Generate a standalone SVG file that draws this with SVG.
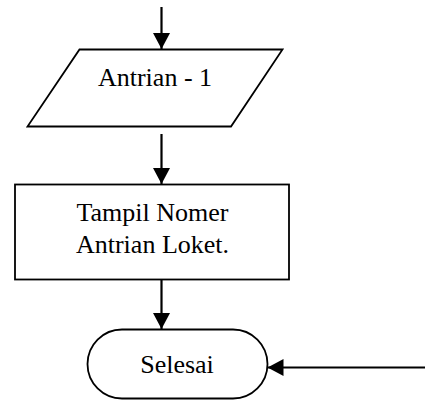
<svg xmlns="http://www.w3.org/2000/svg" width="425" height="403" viewBox="0 0 425 403">
  <defs>
    <marker id="arrow" markerUnits="userSpaceOnUse" markerWidth="16" markerHeight="17" viewBox="0 0 16 17" refX="16" refY="8.5" orient="auto">
      <polygon points="0,0 16,8.5 0,17" fill="#000"/>
    </marker>
    <style>
      .shape { fill: #fff; stroke: #000; stroke-width: 1.8; }
      .conn { fill: none; stroke: #000; stroke-width: 2.2; marker-end: url(#arrow); }
      .label { font-family: "Liberation Serif", "Times New Roman", serif; font-size: 26px; fill: #000; text-anchor: middle; }
    </style>
  </defs>
  <rect width="425" height="403" fill="#fff"/>

  <!-- connectors -->
  <g id="connectors">
    <line class="conn" x1="161.5" y1="7" x2="161.5" y2="49"/>
    <line class="conn" x1="161.5" y1="134" x2="161.5" y2="184"/>
    <line class="conn" x1="161.5" y1="280" x2="161.5" y2="329"/>
    <line class="conn" x1="425" y1="367.5" x2="267.5" y2="367.5"/>
  </g>

  <!-- input: Antrian - 1 -->
  <g id="input-antrian">
    <polygon class="shape" points="79.5,49.5 282.5,49.5 231,126.5 27.5,126.5"/>
    <text class="label" x="155" y="86">Antrian - 1</text>
  </g>

  <!-- process: show queue number -->
  <g id="process-tampil">
    <rect class="shape" x="15" y="184.5" width="274" height="95" stroke-width="2"/>
    <text class="label" x="152.5" y="221">Tampil Nomer</text>
    <text class="label" x="152.5" y="253">Antrian Loket.</text>
  </g>

  <!-- terminator: Selesai -->
  <g id="end-selesai">
    <rect class="shape" x="87.5" y="329.5" width="180" height="69" rx="34.5" ry="34.5"/>
    <text class="label" x="177" y="373">Selesai</text>
  </g>
</svg>
